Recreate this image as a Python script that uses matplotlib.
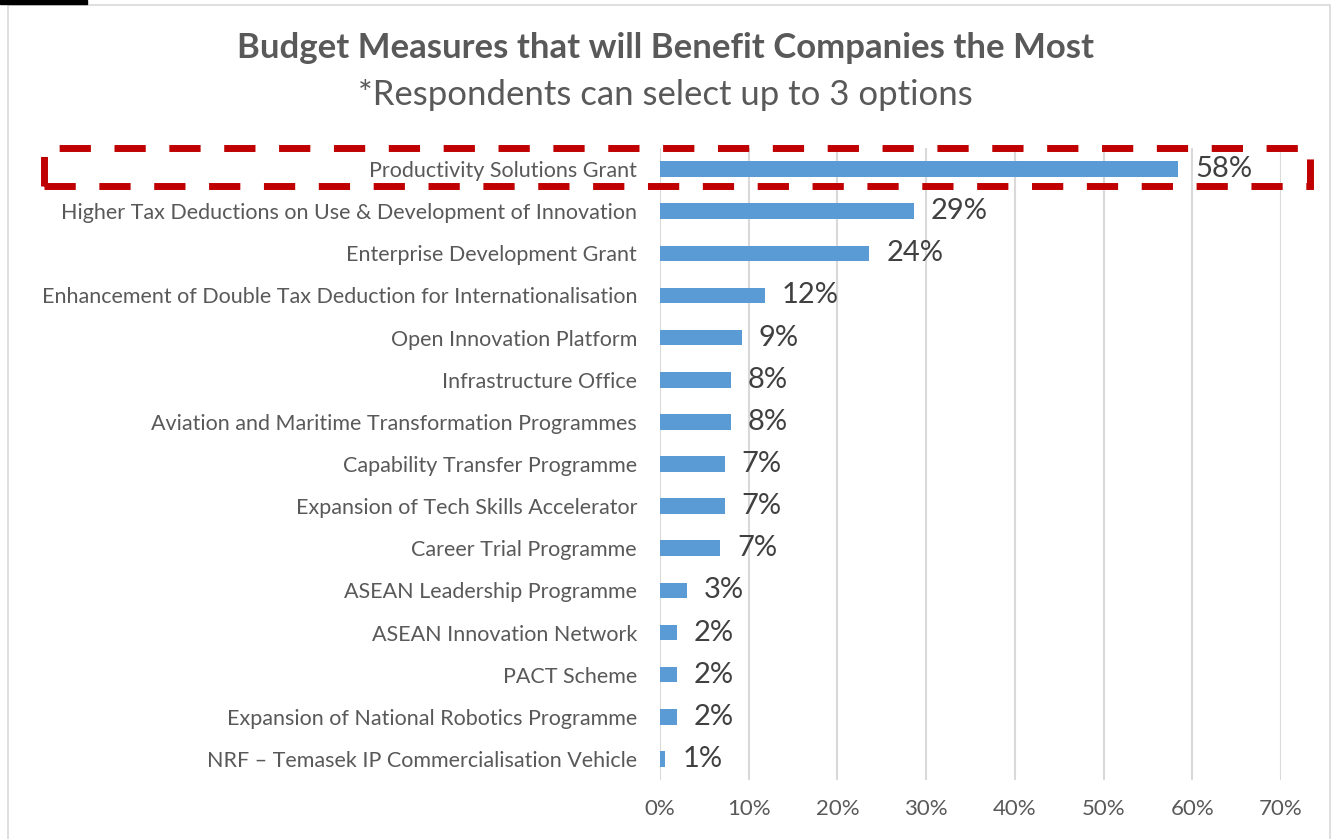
import matplotlib.pyplot as plt
from matplotlib.patches import Rectangle
from matplotlib.ticker import PercentFormatter

plt.rcParams["font.family"] = ["Lato", "DejaVu Sans"]

# Survey results, top answer first
measures = [
    "Productivity Solutions Grant",
    "Higher Tax Deductions on Use & Development of Innovation",
    "Enterprise Development Grant",
    "Enhancement of Double Tax Deduction for Internationalisation",
    "Open Innovation Platform",
    "Infrastructure Office",
    "Aviation and Maritime Transformation Programmes",
    "Capability Transfer Programme",
    "Expansion of Tech Skills Accelerator",
    "Career Trial Programme",
    "ASEAN Leadership Programme",
    "ASEAN Innovation Network",
    "PACT Scheme",
    "Expansion of National Robotics Programme",
    "NRF \u2013 Temasek IP Commercialisation Vehicle",
]
shares = [58.4, 28.6, 23.6, 11.8, 9.2, 8.0, 8.0, 7.3, 7.3, 6.8, 3.0, 1.9, 1.9, 1.9, 0.6]
x_ticks = [0, 10, 20, 30, 40, 50, 60, 70]

W, H = 1331, 839
fig = plt.figure(figsize=(W / 100, H / 100), dpi=100)
ax = fig.add_axes([660 / W, 1 - 780 / H, (1281 - 660) / W, (780 - 148) / H])

pos = list(range(len(measures)))
ax.barh(pos, shares, height=0.37, color="#5B9BD5", zorder=3)
ax.set_ylim(len(measures) - 0.5, -0.5)
ax.set_xlim(0, 70)
ax.set_yticks(pos)
ax.set_yticklabels(measures, fontsize=15.5, color="#595959")
ax.set_xticks(x_ticks)
ax.xaxis.set_major_formatter(PercentFormatter(decimals=0))
ax.tick_params(axis="x", labelsize=16, labelcolor="#595959", length=0, pad=14)
ax.tick_params(axis="y", length=0, pad=16.5)
ax.grid(axis="x", color="#D9D9D9", linewidth=1.5, zorder=0)
for s in ax.spines.values():
    s.set_visible(False)

for y, v in zip(pos, shares):
    ax.text(v + 1.9, y, f"{v:.0f}%", va="center", ha="left", fontsize=21, color="#404040")

fig.text(0.5, 1 - 48 / H, "Budget Measures that will Benefit Companies the Most",
         ha="center", va="center", fontsize=25, fontweight="bold", color="#595959")
fig.text(0.5, 1 - 95 / H, "*Respondents can select up to 3 options",
         ha="center", va="center", fontsize=25, color="#595959")

# dashed highlight around the top answer
fig.patches.append(Rectangle((44 / W, 1 - 186 / H), (1310 - 44) / W, 38 / H,
                             transform=fig.transFigure, fill=False, edgecolor="#C00000",
                             linewidth=5, linestyle=(0, (4.5, 3.4)), zorder=5))

# chart frame and the dark tab at the corner
fig.patches.append(Rectangle((8 / W, -0.1), (1330 - 8) / W, 1.1 - 5 / H,
                             transform=fig.transFigure, fill=False, edgecolor="#D9D9D9",
                             linewidth=1.2))
fig.patches.append(Rectangle((0, 1 - 4 / H), 87 / W, 4 / H, transform=fig.transFigure,
                             color="black"))

fig.savefig("out.png", dpi=100)
